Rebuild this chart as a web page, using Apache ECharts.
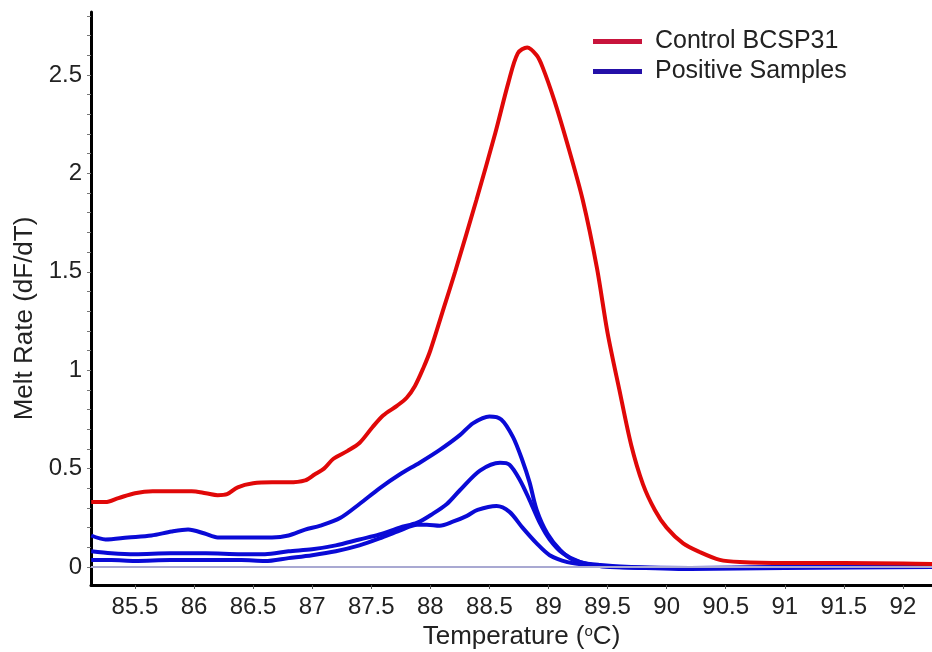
<!DOCTYPE html>
<html>
<head>
<meta charset="utf-8">
<script src="https://cdn.jsdelivr.net/npm/echarts@6/dist/echarts.min.js"></script>
<style>
  html, body { margin: 0; padding: 0; background: #fff; }
  #chart { width: 932px; height: 652px; }
</style>
</head>
<body>
<div id="chart"></div>
<script>
// tick labels
const xTicks = [85.5, 86, 86.5, 87, 87.5, 88, 88.5, 89, 89.5, 90, 90.5, 91, 91.5, 92];
const yTicks = [0, 0.5, 1, 1.5, 2, 2.5];
const yMinorTicks = [0, 0.1, 0.2, 0.3, 0.4, 0.5, 0.6, 0.7, 0.8, 0.9, 1, 1.1, 1.2, 1.3, 1.4,
  1.5, 1.6, 1.7, 1.8, 1.9, 2, 2.1, 2.2, 2.3, 2.4, 2.5, 2.6, 2.7, 2.8];

// Control BCSP31 (red)
const controlTemp = [85.13, 85.25, 85.36, 85.5, 85.65, 85.78, 85.98, 86.1, 86.2, 86.28, 86.37, 86.5,
  86.66, 86.8, 86.94, 87.02, 87.1, 87.18, 87.3, 87.4, 87.51, 87.6, 87.72, 87.8, 87.87, 87.94, 88.0,
  88.1, 88.21, 88.39, 88.55, 88.66, 88.74, 88.82, 88.9, 88.95, 89.05, 89.16, 89.29, 89.41, 89.5,
  89.6, 89.7, 89.8, 89.9, 90.0, 90.14, 90.28, 90.45, 90.62, 91.0, 91.5, 92.0, 92.25];
const controlRate = [0.33, 0.33, 0.35, 0.375, 0.385, 0.385, 0.385, 0.375, 0.365, 0.37, 0.405, 0.425,
  0.43, 0.43, 0.44, 0.47, 0.5, 0.55, 0.59, 0.63, 0.71, 0.77, 0.82, 0.86, 0.92, 1.01, 1.1,
  1.29, 1.5, 1.865, 2.205, 2.46, 2.61, 2.64, 2.6, 2.54, 2.37, 2.15, 1.865, 1.52, 1.19,
  0.9, 0.62, 0.42, 0.29, 0.2, 0.12, 0.076, 0.036, 0.025, 0.02, 0.02, 0.018, 0.015];

// Positive samples (blue), three traces
const sampleATemp = [85.13, 85.25, 85.44, 85.64, 85.81, 85.95, 86.09, 86.2, 86.35, 86.54, 86.66, 86.8,
  86.94, 87.07, 87.24, 87.4, 87.57, 87.74, 87.91, 88.08, 88.25, 88.36, 88.5, 88.6, 88.7, 88.78,
  88.84, 88.9, 88.99, 89.1, 89.21, 89.38, 89.52, 90.0, 90.5, 91.0, 91.5, 92.25];
const sampleARate = [0.16, 0.14, 0.15, 0.16, 0.18, 0.19, 0.17, 0.15, 0.15, 0.15, 0.15, 0.16,
  0.19, 0.21, 0.25, 0.32, 0.4, 0.47, 0.53, 0.595, 0.67, 0.73, 0.765, 0.75, 0.66, 0.54,
  0.43, 0.29, 0.17, 0.086, 0.036, 0.01, 0.0, -0.005, -0.005, 0.0, 0.0, 0.0];

const sampleBTemp = [85.13, 85.3, 85.5, 85.8, 86.1, 86.4, 86.6, 86.8, 87.0, 87.2, 87.4, 87.57, 87.74,
  87.89, 88.02, 88.14, 88.25, 88.42, 88.59, 88.67, 88.76, 88.84, 88.93, 89.01, 89.12, 89.27,
  89.44, 89.7, 90.2, 91.0, 92.25];
const sampleBRate = [0.08, 0.07, 0.065, 0.07, 0.07, 0.065, 0.065, 0.08, 0.09, 0.11, 0.14, 0.165, 0.2,
  0.225, 0.27, 0.32, 0.39, 0.49, 0.53, 0.52, 0.44, 0.34, 0.22, 0.14, 0.07, 0.025,
  0.01, 0.0, -0.005, 0.0, 0.0];

const sampleCTemp = [85.13, 85.3, 85.5, 85.8, 86.1, 86.4, 86.6, 86.8, 87.0, 87.2, 87.4, 87.57, 87.74,
  87.89, 87.97, 88.08, 88.19, 88.31, 88.4, 88.56, 88.67, 88.78, 88.9, 89.01, 89.16, 89.33,
  89.6, 90.2, 91.0, 92.25];
const sampleCRate = [0.035, 0.035, 0.03, 0.035, 0.035, 0.035, 0.03, 0.045, 0.06, 0.08, 0.11, 0.145, 0.185,
  0.215, 0.215, 0.21, 0.23, 0.26, 0.29, 0.31, 0.28, 0.2, 0.12, 0.06, 0.025, 0.01,
  0.0, -0.01, -0.005, 0.0];

const pairs = (xs, ys) => xs.map((x, i) => [x, ys[i]]);

const font = "'Liberation Sans', Arial, sans-serif";
const red = "#e00808";
const blue = "#0a0ad6";

const blueLine = (data) => ({
  name: "Positive Samples",
  type: "line",
  data: data,
  smooth: 0.3,
  showSymbol: false,
  lineStyle: { color: blue, width: 4 },
  itemStyle: { color: blue },
});

const myChart = echarts.init(document.getElementById("chart"));
myChart.setOption({
  animation: false,
  backgroundColor: "#fff",
  grid: { left: 91, right: 0, top: 12, bottom: 67, outerBoundsMode: "none" },
  legend: {
    data: [
      { name: "Control BCSP31", itemStyle: { color: "#c8143c" } },
      { name: "Positive Samples", itemStyle: { color: "#2410a8" } },
    ],
    orient: "vertical",
    left: 588,
    top: 24,
    icon: "rect",
    itemWidth: 49,
    itemHeight: 5,
    itemGap: 5,
    textStyle: { fontFamily: font, fontSize: 25, color: "#222", padding: [0, 0, 0, 8] },
  },
  xAxis: {
    type: "value",
    min: 85.128,
    max: 92.246,
    name: "Temperature ({sup|o}C)",
    nameLocation: "middle",
    nameGap: 38,
    nameTextStyle: {
      fontFamily: font,
      fontSize: 26,
      color: "#222",
      padding: [0, 0, 0, 20],
      rich: { sup: { fontFamily: font, fontSize: 15, color: "#222", verticalAlign: "top", padding: [0, 0, 10, 0] } },
    },
    axisLine: { onZero: false, lineStyle: { color: "#000", width: 3 } },
    axisTick: { show: true, length: 4, customValues: xTicks, lineStyle: { color: "#555", width: 1 } },
    axisLabel: { customValues: xTicks, fontFamily: font, fontSize: 24, color: "#222", margin: 10 },
    splitLine: { show: false },
  },
  yAxis: {
    type: "value",
    min: -0.0915,
    max: 2.82,
    name: "Melt Rate (dF/dT)",
    nameLocation: "middle",
    nameGap: 46,
    nameTextStyle: { fontFamily: font, fontSize: 26, color: "#222", padding: [0, 40, 0, 0] },
    axisLine: { show: true, onZero: false, lineStyle: { color: "#000", width: 3 } },
    axisTick: { show: true, length: 4, customValues: yMinorTicks, lineStyle: { color: "#777", width: 1 } },
    axisLabel: { customValues: yTicks, fontFamily: font, fontSize: 24, color: "#222", margin: 9 },
    splitLine: { show: false },
  },
  series: [
    {
      name: "baseline",
      type: "line",
      data: [],
      silent: true,
      markLine: {
        silent: true,
        symbol: "none",
        label: { show: false },
        lineStyle: { color: "#a9a9d2", width: 2, type: "solid" },
        data: [{ yAxis: 0 }],
      },
    },
    blueLine(pairs(sampleCTemp, sampleCRate)),
    blueLine(pairs(sampleBTemp, sampleBRate)),
    blueLine(pairs(sampleATemp, sampleARate)),
    {
      name: "Control BCSP31",
      type: "line",
      data: pairs(controlTemp, controlRate),
      smooth: 0.3,
      showSymbol: false,
      lineStyle: { color: red, width: 4 },
      itemStyle: { color: red },
    },
  ],
});
</script>
</body>
</html>
